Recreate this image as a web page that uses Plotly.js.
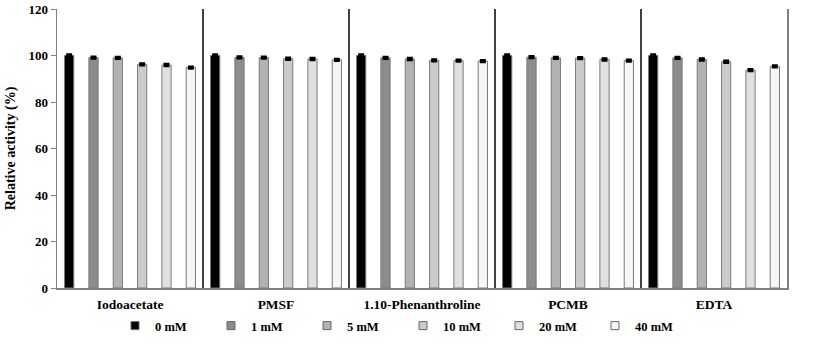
<!DOCTYPE html>
<html>
<head>
<meta charset="utf-8">
<script src="https://cdn.plot.ly/plotly-3.0.1.min.js"></script>
<style>html,body{margin:0;padding:0;background:#fff;}#chart{width:827px;height:356px;}</style>
</head>
<body>
<div id="chart"></div>
<script>
const categories = ["Iodoacetate", "PMSF", "1.10-Phenanthroline", "PCMB", "EDTA"];
const seriesNames = ["0 mM", "1 mM", "5 mM", "10 mM", "20 mM", "40 mM"];
const v0mM  = [100.0, 100.0, 100.0, 100.0, 100.0];
const v1mM  = [99.1, 99.2, 99.0, 99.3, 99.0];
const v5mM  = [99.0, 99.1, 98.5, 99.0, 98.3];
const v10mM = [96.2, 98.6, 97.9, 98.9, 97.3];
const v20mM = [95.9, 98.5, 97.8, 98.3, 93.7];
const v40mM = [94.8, 98.1, 97.6, 97.8, 95.3];
const errors = [0.4, 0.4, 0.4, 0.4, 0.4];
const seriesValues = [v0mM, v1mM, v5mM, v10mM, v20mM, v40mM];
const colors = ["#000000", "#8c8c8c", "#b2b2b2", "#cbcbcb", "#e0e0e0", "#f6f6f6"];

const fontFam = "Liberation Serif, Times New Roman, serif";

const traces = seriesNames.map((name, i) => ({
  type: "bar",
  name: name,
  x: categories,
  y: seriesValues[i],
  showlegend: false,
  marker: {color: colors[i], line: {color: "#7a7a7a", width: 1}},
  error_y: {type: "data", array: errors, visible: true, color: "#000", thickness: 2.5, width: 3}
}));

// legend-only entries with small square symbols
seriesNames.forEach((name, i) => {
  traces.push({
    type: "scatter", mode: "markers", name: name,
    x: [null], y: [null], showlegend: true,
    marker: {symbol: "square", size: 8, color: colors[i], line: {color: "#666", width: 1}}
  });
});

const shapes = [0.5, 1.5, 2.5, 3.5].map(p => ({
  type: "line", xref: "x", yref: "paper", x0: p, x1: p, y0: 0, y1: 1,
  line: {color: "#000", width: 1.5}
}));

const layout = {
  width: 827, height: 356,
  margin: {l: 57, r: 40, t: 9, b: 68, autoexpand: false},
  paper_bgcolor: "#fff", plot_bgcolor: "#fff",
  font: {family: fontFam, size: 13, color: "#000", weight: 700},
  barmode: "group", bargap: 0, bargroupgap: 0.62,
  showlegend: true,
  legend: {orientation: "h", xref: "container", x: 115/827, xanchor: "left",
           yref: "container", y: 1 - 326/356, yanchor: "middle",
           font: {family: fontFam, size: 12.5, weight: 700},
           entrywidth: 51, entrywidthmode: "pixels", itemwidth: 30,
           bgcolor: "rgba(0,0,0,0)"},
  xaxis: {type: "category", showline: true, linecolor: "#808080", linewidth: 1.5,
          ticks: "", showgrid: false, zeroline: false, tickfont: {size: 13.5}, ticklen: 0,
          ticklabelstandoff: 3},
  yaxis: {range: [0, 120], dtick: 20, showline: true, linecolor: "#808080", linewidth: 1.5,
          mirror: true, ticks: "outside", ticklen: 5, tickcolor: "#808080",
          showgrid: false, zeroline: false, tickfont: {size: 13},
          title: {text: "Relative activity (%)", font: {size: 14, weight: 700}, standoff: 9}},
  shapes: shapes
};

Plotly.newPlot("chart", traces, layout, {displayModeBar: false, staticPlot: true});
</script>
</body>
</html>
